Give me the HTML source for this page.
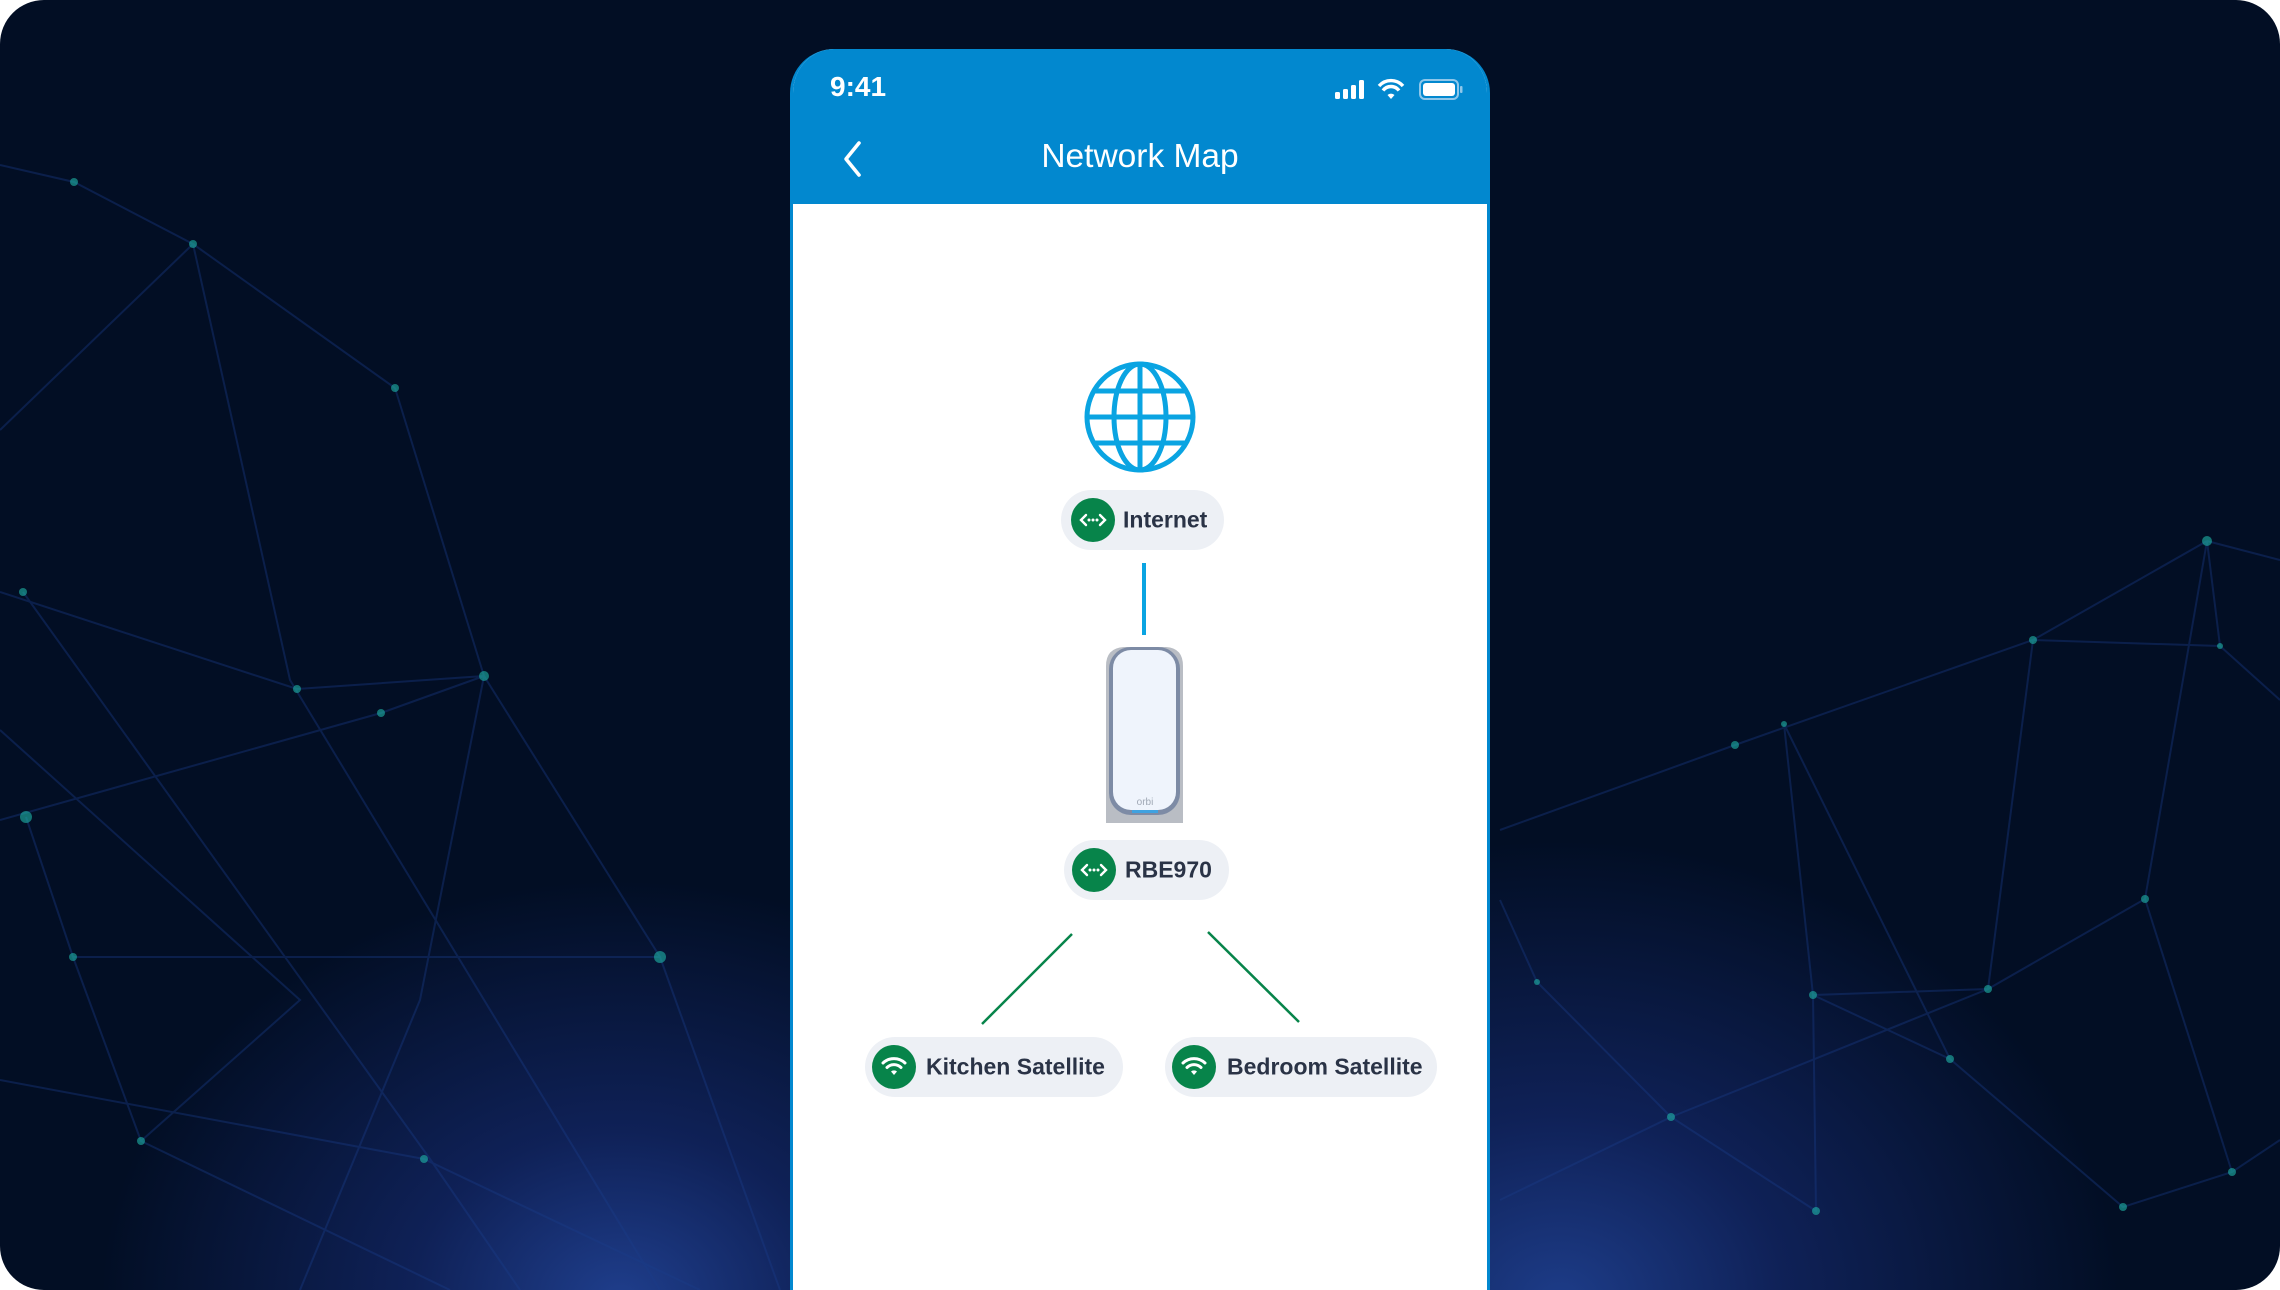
<!DOCTYPE html>
<html><head><meta charset="utf-8"><style>
html,body{margin:0;padding:0;background:#fff;}
#root{position:relative;width:2280px;height:1290px;overflow:hidden;border-radius:44px;background:radial-gradient(ellipse 520px 420px at 620px 1300px,#1f3e8c 0%,#0f2157 40%,rgba(2,14,36,0) 100%),radial-gradient(ellipse 560px 460px at 1560px 1300px,#1d3c88 0%,#0f2157 40%,rgba(2,14,36,0) 100%),#020e24;font-family:"Liberation Sans",sans-serif;}
svg.bg{position:absolute;left:0;top:0}
.phone{position:absolute;left:790px;top:49px;width:700px;height:1300px;border-radius:44px;background:#fff;overflow:hidden;border:3px solid #0288cf;border-top:none;box-sizing:border-box}
.hdr{position:absolute;left:0;top:0;width:100%;height:155px;background:#0288cf}
.time{position:absolute;left:37px;top:22px;color:#fff;font-size:28px;font-weight:600}
.title{position:absolute;left:0;width:100%;top:89px;text-align:center;color:#fff;font-size:33.5px}
.pill{position:absolute;background:#edf0f5;border-radius:30px;color:#2a3346;font-size:23px;font-weight:600;box-sizing:border-box}
.pill .c{position:absolute;top:50%;width:44px;height:44px;margin-top:-22px;border-radius:50%;background:#07844a}
.pill span{position:absolute;top:50%;transform:translateY(-50%);white-space:nowrap}
</style></head><body><div id="root">
<svg class="bg" width="2280" height="1290" viewBox="0 0 2280 1290">
<g stroke="#1a3d8a" stroke-width="2" opacity="0.38" fill="none">
<polyline points="0,165 74,182 193,244 395,388"/>
<polyline points="193,244 0,430"/>
<polyline points="193,244 290,680 660,1290"/>
<polyline points="0,592 297,689 484,676 381,713 0,820"/>
<polyline points="484,676 660,957 780,1290"/>
<polyline points="395,388 484,676 420,1000 300,1290"/>
<polyline points="26,817 73,957 141,1141 450,1290"/>
<polyline points="73,957 660,957"/>
<polyline points="23,592 430,1159 520,1290"/>
<polyline points="0,1080 424,1159 700,1290"/>
<polyline points="0,730 300,1000 141,1141"/>
<polyline points="2207,541 2033,640 1735,745 1500,830"/>
<polyline points="2207,541 2220,646 2280,700"/>
<polyline points="2033,640 2220,646"/>
<polyline points="2207,541 2145,899 1988,989 1813,995 1950,1059"/>
<polyline points="1784,724 1813,995 1816,1211 1671,1117 1537,982"/>
<polyline points="1784,724 1950,1059 2123,1207 2232,1172 2280,1140"/>
<polyline points="2145,899 2232,1172"/>
<polyline points="1671,1117 1500,1200"/>
<polyline points="1537,982 1500,900"/>
<polyline points="2033,640 1988,989 1671,1117"/>
<polyline points="2280,560 2207,541"/>
</g>
<g fill="#1fb5a8" opacity="0.6">
<circle cx="74" cy="182" r="4"/><circle cx="193" cy="244" r="4"/><circle cx="395" cy="388" r="4"/><circle cx="23" cy="592" r="4"/><circle cx="484" cy="676" r="5"/><circle cx="297" cy="689" r="4"/><circle cx="381" cy="713" r="4"/><circle cx="26" cy="817" r="6"/><circle cx="73" cy="957" r="4"/><circle cx="660" cy="957" r="6"/><circle cx="141" cy="1141" r="4"/><circle cx="424" cy="1159" r="4"/>
<circle cx="2207" cy="541" r="5"/><circle cx="2033" cy="640" r="4"/><circle cx="2220" cy="646" r="3"/><circle cx="1735" cy="745" r="4"/><circle cx="1784" cy="724" r="3"/><circle cx="2145" cy="899" r="4"/><circle cx="1813" cy="995" r="4"/><circle cx="1988" cy="989" r="4"/><circle cx="1950" cy="1059" r="4"/><circle cx="1671" cy="1117" r="4"/><circle cx="2232" cy="1172" r="4"/><circle cx="2123" cy="1207" r="4"/><circle cx="1816" cy="1211" r="4"/><circle cx="1537" cy="982" r="3"/>
</g>
</svg>
<div class="phone">
<div class="hdr">
<div class="time">9:41</div>
<svg style="position:absolute;left:539px;top:28px" width="140" height="26" viewBox="0 0 140 26">
<rect x="3" y="15" width="5" height="7" rx="1.5" fill="#fff"/><rect x="11" y="12" width="5" height="10" rx="1.5" fill="#fff"/><rect x="19" y="8" width="5" height="14" rx="1.5" fill="#fff"/><rect x="27" y="3" width="5" height="19" rx="1.5" fill="#fff"/>
<path d="M47 9 a16 16 0 0 1 24 0" stroke="#fff" stroke-width="3.4" fill="none"/><path d="M51 13.5 a10 10 0 0 1 16 0" stroke="#fff" stroke-width="3.4" fill="none"/><path d="M55.5 18 L59 22 L62.5 18 a5 5 0 0 0 -7 0z" fill="#fff"/>
<rect x="88" y="3" width="38" height="19" rx="5" fill="none" stroke="#8fc7ea" stroke-width="2"/><rect x="91" y="6" width="32" height="13" rx="3" fill="#fff"/><rect x="128" y="9" width="2.5" height="7" rx="1" fill="#8fc7ea"/>
</svg>
<svg style="position:absolute;left:48px;top:91px" width="24" height="40" viewBox="0 0 24 40"><path d="M18 3 L5 19 L18 35" stroke="#fff" stroke-width="3.6" fill="none" stroke-linecap="round" stroke-linejoin="round"/></svg>
<div class="title">Network Map</div>
</div>
<svg style="position:absolute;left:0;top:0" width="700" height="1300">
<g transform="translate(347,368)" stroke="#0aa4e2" stroke-width="5" fill="none">
<circle r="53"/><ellipse rx="26" ry="53"/><line x1="0" y1="-53" x2="0" y2="53"/><line x1="-53" y1="0" x2="53" y2="0"/><line x1="-46" y1="-26" x2="46" y2="-26"/><line x1="-46" y1="26" x2="46" y2="26"/>
</g>
<line x1="351" y1="514" x2="351" y2="586" stroke="#0aa4e2" stroke-width="4"/>
<line x1="279" y1="885" x2="189" y2="975" stroke="#07844a" stroke-width="2.5"/>
<line x1="415" y1="883" x2="506" y2="973" stroke="#07844a" stroke-width="2.5"/>
<g transform="translate(311,597)">
<path d="M2 177 L2 20 Q2 2 20 1 L62 1 Q79 2 79 20 L79 177 Z" fill="#b9bdc4"/>
<rect x="5" y="1" width="71" height="168" rx="22" fill="#7d8ba5"/>
<rect x="9" y="4" width="63" height="160" rx="18" fill="#eff4fc"/>
<rect x="28" y="164" width="26" height="3" fill="#3fa2e0"/>
<text x="41" y="159" font-size="10" fill="#a0a8b5" text-anchor="middle" font-family="Liberation Sans,sans-serif">orbi</text>
</g>
</svg>
<div class="pill" style="left:268px;top:441px;width:163px;height:60px"><div class="c" style="left:10px"><svg width="44" height="44" viewBox="0 0 44 44"><path d="M15 17 L10 22 L15 27 M29 17 L34 22 L29 27" stroke="#fff" stroke-width="2.4" fill="none" stroke-linecap="round"/><circle cx="18" cy="22" r="1.5" fill="#fff"/><circle cx="22" cy="22" r="1.5" fill="#fff"/><circle cx="26" cy="22" r="1.5" fill="#fff"/></svg></div><span style="left:62px">Internet</span></div>
<div class="pill" style="left:271px;top:791px;width:165px;height:60px"><div class="c" style="left:8px"><svg width="44" height="44" viewBox="0 0 44 44"><path d="M15 17 L10 22 L15 27 M29 17 L34 22 L29 27" stroke="#fff" stroke-width="2.4" fill="none" stroke-linecap="round"/><circle cx="18" cy="22" r="1.5" fill="#fff"/><circle cx="22" cy="22" r="1.5" fill="#fff"/><circle cx="26" cy="22" r="1.5" fill="#fff"/></svg></div><span style="left:61px">RBE970</span></div>
<div class="pill" style="left:72px;top:988px;width:258px;height:60px"><div class="c" style="left:7px"><svg width="44" height="44" viewBox="0 0 44 44"><path d="M11 18 a16 16 0 0 1 22 0" stroke="#fff" stroke-width="3" fill="none" stroke-linecap="round"/><path d="M15 22.5 a10 10 0 0 1 14 0" stroke="#fff" stroke-width="3" fill="none" stroke-linecap="round"/><path d="M19 26.5 L22 30 L25 26.5 a4.5 4.5 0 0 0 -6 0z" fill="#fff"/></svg></div><span style="left:61px">Kitchen Satellite</span></div>
<div class="pill" style="left:372px;top:988px;width:272px;height:60px"><div class="c" style="left:7px"><svg width="44" height="44" viewBox="0 0 44 44"><path d="M11 18 a16 16 0 0 1 22 0" stroke="#fff" stroke-width="3" fill="none" stroke-linecap="round"/><path d="M15 22.5 a10 10 0 0 1 14 0" stroke="#fff" stroke-width="3" fill="none" stroke-linecap="round"/><path d="M19 26.5 L22 30 L25 26.5 a4.5 4.5 0 0 0 -6 0z" fill="#fff"/></svg></div><span style="left:62px">Bedroom Satellite</span></div>
</div>
</div></body></html>
